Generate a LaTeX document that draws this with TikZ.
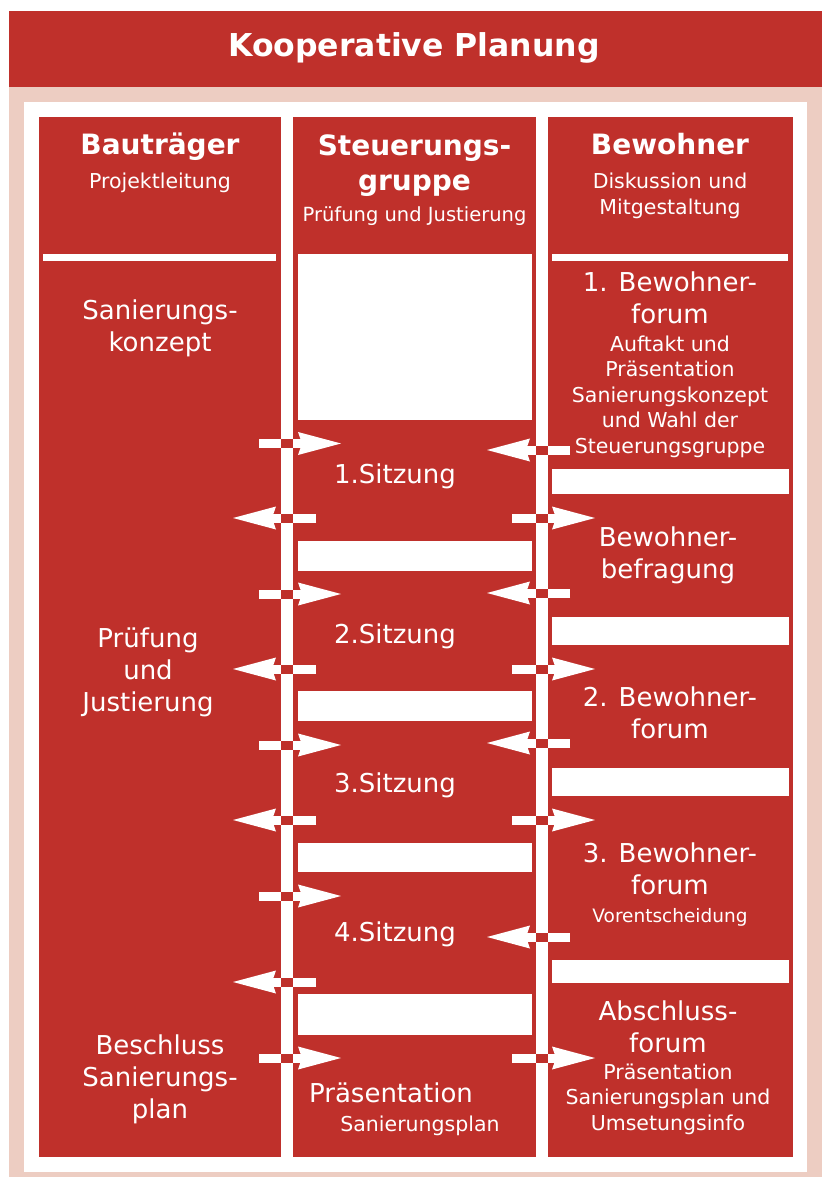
\documentclass[tikz,border=0pt]{standalone}
\usepackage{fontspec}
\setmainfont{DejaVu Sans}
\usetikzlibrary{arrows.meta,positioning}
\definecolor{rot}{RGB}{191,48,43}
\definecolor{rosa}{RGB}{237,205,194}
\newcommand{\fsz}[2]{\fontsize{#1}{#2}\selectfont}

\begin{document}
\begin{tikzpicture}[x=1pt,y=-1pt,
    every node/.style={text=white,align=center,inner sep=0pt,anchor=base},
    gross/.style={font=\fsz{26}{32}},
    klein/.style={font=\fsz{20.5}{25.5}},
    kopf/.style={font=\bfseries\fsz{28}{35}},
    pfeil/.style={draw=white,line width=9pt,-{Stealth[length=43pt,width=23pt,inset=4pt,line width=0pt]}},
    balken/.style={fill=white}]
    % background and frame
    \fill[white] (0,0) rectangle (827,1177);
    \fill[rosa] (9,87) rectangle (822,1177);
    \fill[rot] (9,11) rectangle (822,87);
    \fill[white] (24,102) rectangle (807,1172);
    % the three columns
    \fill[rot] (39,117) rectangle (281,1157);
    \fill[rot] (293,117) rectangle (536,1157);
    \fill[rot] (548,117) rectangle (793,1157);
    \fill[white] (43,254) rectangle (276,261);
    \fill[white] (552,254) rectangle (788,261);
    % white blocks
    \foreach \a/\b in {254/420,541/571,691/721,843/872,994/1035}
        \fill[balken] (298,\a) rectangle (532,\b);
    \foreach \a/\b in {469/494,617/645,768/796,960/983}
        \fill[balken] (552,\a) rectangle (789,\b);

    % create the nodes (base = last line)
    \node[font=\bfseries\fsz{31.5}{36}] (titel) at (414,57) {Kooperative Planung};
    \node[kopf] (bautraeger) at (160,155) {Bauträger};
    \node[klein] (leitung) at (160,189) {Projektleitung};
    \node[kopf] (steuerung) at (414.5,190) {Steuerungs-\\gruppe};
    \node[font=\fsz{19.5}{24}] (justierung) at (414.5,222) {Prüfung und Justierung};
    \node[kopf] (bewohner) at (670,155) {Bewohner};
    \node[klein] (diskussion) at (670,214) {Diskussion und\\Mitgestaltung};

    \node[gross] (konzept) at (160,351) {Sanierungs-\\konzept};
    \node[gross] (pruefung) at (148,711) {Prüfung\\und\\Justierung};
    \node[gross] (beschluss) at (160,1118) {Beschluss\\Sanierungs-\\plan};

    \node[gross] (sitzung1) at (395,483) {1.Sitzung};
    \node[gross] (sitzung2) at (395,643) {2.Sitzung};
    \node[gross] (sitzung3) at (395,792) {3.Sitzung};
    \node[gross] (sitzung4) at (395,941) {4.Sitzung};
    \node[gross] (praesentation) at (391,1102) {Präsentation};
    \node[klein] (plan) at (420,1131) {Sanierungsplan};

    \node[gross] (forum1) at (670,323) {1. Bewohner-\\forum};
    \node[klein] (forum1txt) at (670,453) {Auftakt und\\Präsentation\\Sanierungskonzept\\und Wahl der\\Steuerungsgruppe};
    \node[gross] (befragung) at (668,578) {Bewohner-\\befragung};
    \node[gross] (forum2) at (670,738) {2. Bewohner-\\forum};
    \node[gross] (forum3) at (670,894) {3. Bewohner-\\forum};
    \node[font=\fsz{18.5}{24}] (forum3txt) at (670,922) {Vorentscheidung};
    \node[gross] (abschluss) at (668,1052) {Abschluss-\\forum};
    \node[klein] (abschlusstxt) at (668,1130) {Präsentation\\Sanierungsplan und\\Umsetungsinfo};

    % connect the columns
    \foreach \y [count=\i] in {443.5,594,745,896,1058} {
        \coordinate (ba\i) at (259,\y);
        \coordinate (st\i) at (341,\y);
        \draw[pfeil] (ba\i) -- (st\i);
        \fill[rot] (281,\y-4.5) rectangle (293,\y+4.5);
    }
    \foreach \y [count=\i] in {518,669,820,982} {
        \coordinate (sl\i) at (316,\y);
        \coordinate (bl\i) at (233,\y);
        \draw[pfeil] (sl\i) -- (bl\i);
        \fill[rot] (281,\y-4.5) rectangle (293,\y+4.5);
    }
    \foreach \y [count=\i] in {518,669,820,1058} {
        \coordinate (sr\i) at (512,\y);
        \coordinate (bw\i) at (595,\y);
        \draw[pfeil] (sr\i) -- (bw\i);
        \fill[rot] (536,\y-4.5) rectangle (548,\y+4.5);
    }
    \foreach \y [count=\i] in {450,593,743,937} {
        \coordinate (be\i) at (570,\y);
        \coordinate (sb\i) at (487,\y);
        \draw[pfeil] (be\i) -- (sb\i);
        \fill[rot] (536,\y-4.5) rectangle (548,\y+4.5);
    }
\end{tikzpicture}
\end{document}
